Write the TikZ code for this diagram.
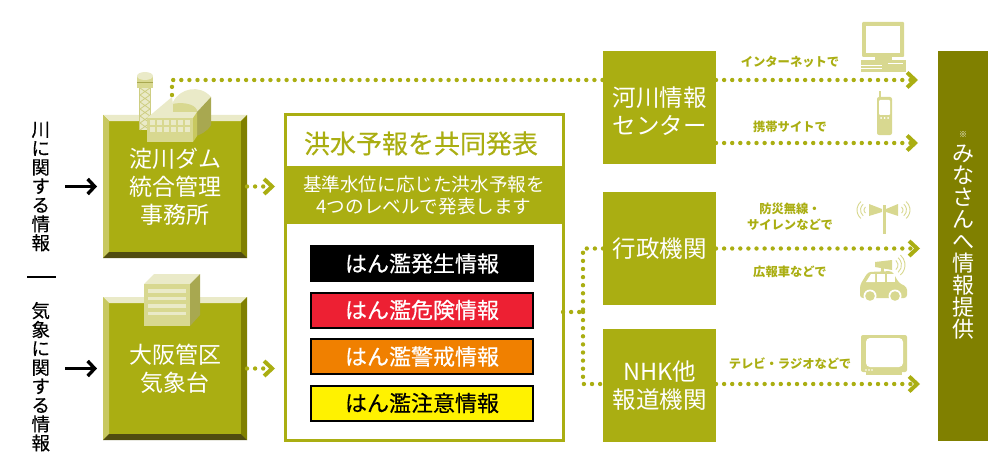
\documentclass[tikz,border=0pt]{standalone}
\usepackage{fontspec}
\setmainfont{Noto Sans CJK JP}
\newfontfamily\heavyfont[FakeBold=0.35]{Noto Sans CJK JP}
\usetikzlibrary{positioning,calc,arrows.meta}
\definecolor{olive1}{HTML}{AAAE12}
\definecolor{olive2}{HTML}{808000}
\definecolor{olive3}{HTML}{D8D890}
\definecolor{olive4}{HTML}{EAEAC8}
\definecolor{olive5}{HTML}{C8C860}
\definecolor{olive6}{HTML}{504C10}
\definecolor{olive7}{HTML}{A8A850}
\definecolor{flood}{HTML}{ED2033}
\definecolor{warn}{HTML}{F08000}
\definecolor{note}{HTML}{FFF200}
\tikzset{
  sender/.style={fill=olive1,text=white,minimum width=144pt,minimum height=143pt,inner sep=0pt,outer sep=0pt,align=center,font=\fontsize{23}{28}\selectfont},
  relay/.style={fill=olive1,text=white,minimum width=113pt,minimum height=113pt,inner sep=0pt,outer sep=0pt,align=center,font=\fontsize{23.5}{28}\selectfont},
  level/.style={draw=black,line width=2pt,minimum width=222pt,minimum height=35pt,inner sep=0pt,outer sep=1pt,font=\fontsize{22}{25}\heavyfont},
  tate/.style={align=center,inner sep=0pt,outer sep=0pt,font=\fontsize{18.5}{18.9}\heavyfont},
  medium/.style={text=olive1,align=center,inner sep=0pt,font=\fontsize{12.3}{16}\selectfont\bfseries},
  dots/.style={olive1,line width=4.4pt,line cap=round,dash pattern=on 0pt off 8.1pt,-{Straight Barb[length=8pt,width=15pt,line width=4pt,line cap=butt]}},
  plaindots/.style={olive1,line width=4.4pt,line cap=round,dash pattern=on 0pt off 8.1pt},
  inflow/.style={line width=3.4pt,-{Straight Barb[length=7pt,width=15pt,line width=3.4pt,line cap=butt]}},
}
\newcommand{\bevel}[1]{
  \fill[olive4] (#1.north west) -- (#1.north east) -- ($(#1.north east)+(-6,6)$) -- ($(#1.north west)+(6,6)$) -- cycle;
  \fill[olive5] (#1.north west) -- (#1.south west) -- ($(#1.south west)+(6,-6)$) -- ($(#1.north west)+(6,6)$) -- cycle;
  \fill[olive2] (#1.north east) -- (#1.south east) -- ($(#1.south east)+(-6,-6)$) -- ($(#1.north east)+(-6,6)$) -- cycle;
  \fill[olive6] (#1.south west) -- (#1.south east) -- ($(#1.south east)+(-6,-6)$) -- ($(#1.south west)+(6,-6)$) -- cycle;
}
\begin{document}
\begin{tikzpicture}[x=1pt,y=-1pt]
  \useasboundingbox (0,0) rectangle (1000,468);
  \node [sender,anchor=north west] (dam) at (103,115) {淀川ダム\\統合管理\\事務所};
  \node [sender,below=39pt of dam] (jma) {大阪管区\\気象台};
  \bevel{dam}
  \bevel{jma}
  \node [tate,left=53pt of dam] (kawa) {川\\に\\関\\す\\る\\情\\報};
  \node [tate,anchor=north] (kisho) at (kawa.center |- 0,302) {気\\象\\に\\関\\す\\る\\情\\報};
  \coordinate (rule1) at (27,277);
  \coordinate (rule2) at (56,277);
  \draw [line width=1.2pt] (rule1) -- (rule2);
  \node [draw=olive1,line width=3pt,minimum width=278pt,minimum height=326pt,inner sep=0pt,outer sep=0pt,anchor=north west] (joint) at (285,114.5) {};
  \node [fill=olive1,minimum width=278pt,minimum height=58pt,inner sep=0pt,outer sep=0pt,anchor=north,text=white,align=center,font=\fontsize{18.6}{22}\selectfont] (outline) at ($(joint.north)+(0,51.5)$) {基準水位に応じた洪水予報を\\4つのレベルで発表します};
  \node [text=olive1,inner sep=0pt,font=\fontsize{26}{30}\heavyfont] (title) at ($(joint.north)+(-3,29)$) {洪水予報を共同発表};
  \node [level,fill=black,text=white,anchor=north] (lev1) at ($(outline.south)+(-2,21)$) {はん濫発生情報};
  \node [level,fill=flood,text=white,below=9.5pt of lev1] (lev2) {はん濫危険情報};
  \node [level,fill=warn,text=white,below=9.5pt of lev2] (lev3) {はん濫警戒情報};
  \node [level,fill=note,text=black,below=9.5pt of lev3] (lev4) {はん濫注意情報};
  \node [relay,anchor=north west] (kasen) at (603,51) {};
  \node [relay,fill=none] (kasentext) at ($(kasen.center)+(0,4)$) {河川情報\\センター};
  \node [relay,below=28pt of kasen] (gyosei) {行政機関};
  \node [relay,below=24pt of gyosei] (nhk) {NHK他\\報道機関};
  \node [fill=olive2,text=white,minimum width=50pt,minimum height=390pt,inner sep=0pt,outer sep=0pt,anchor=north west] (minasan) at (938,51) {};
  \node [text=white,inner sep=0pt,font=\fontsize{8}{8}\selectfont] (kome) at (963,135) {※};
  \node [text=white,align=center,inner sep=0pt,anchor=north,font=\fontsize{22}{22}\selectfont] (teikyo) at (963,145) {み\\な\\さ\\ん\\へ\\情\\報\\提\\供};
  \draw [inflow,shorten <=15pt,shorten >=6pt] (kawa.east) -- (dam.west);
  \draw [inflow,shorten <=15pt,shorten >=6pt] (kisho.east |- jma.west) -- (jma.west);
  \draw [dots,shorten >=10pt] (dam.east) -- (dam.east -| joint.west);
  \draw [dots,shorten >=10pt] (jma.east) -- (jma.east -| joint.west);
  \coordinate (stack) at (172,95);
  \coordinate (inet) at (603,80);
  \coordinate (inet2) at (716,80);
  \coordinate (mobile) at (716,143);
  \coordinate (nhkline) at (603,384);
  \coordinate (nhkline2) at (716,384);
  \coordinate (branch) at (583,312);
  \draw [plaindots] (stack) |- (inet);
  \draw [dots,shorten >=20pt] (inet2) -- (inet2 -| minasan.west);
  \draw [dots,shorten >=20pt] (mobile) -- (mobile -| minasan.west);
  \draw [dots,shorten >=18pt] (gyosei.east) -- (gyosei.east -| minasan.west);
  \draw [dots,shorten >=18pt] (nhkline2) -- (nhkline2 -| minasan.west);
  \draw [plaindots] (joint.east |- branch) -- (branch);
  \draw [plaindots] (gyosei.west) -| (branch);
  \draw [plaindots] (branch) |- (nhkline);
  \node [medium] (l1) at (790,62) {インターネットで};
  \node [medium] (l2) at (790,127) {携帯サイトで};
  \node [medium] (l3) at (790,217) {防災無線・\\サイレンなどで};
  \node [medium] (l4) at (790,272) {広報車などで};
  \node [medium] (l5) at (790,364) {テレビ・ラジオなどで};
  % factory
  \fill [olive4] (139,88) rectangle (151,130);
  \foreach \y in {88,95,102,109,116,123} {
    \draw [olive3!80!olive7,line width=.8pt] (140,\y) -- (150,\y+7) (150,\y) -- (140,\y+7);
  }
  \draw [olive3!80!olive7,line width=.8pt] (139.5,88) -- (139.5,130) (150.5,88) -- (150.5,130);
  \fill [olive3] (137,76) rectangle (153,88);
  \fill [olive4] (145,76) ellipse (8 and 4);
  \fill [olive7] (137,82) rectangle (153,83);
  \fill [olive4] (147,118) -- (172,97) -- (174,112) -- (197,112) -- (193,118) -- cycle;
  \fill [olive4] (173,112) -- (173,102) .. controls (180,88) and (200,84) .. (211,97) -- (197,112) -- cycle;
  \fill [olive3] (173,104) -- (173,112) -- (197,112) -- (197,110) .. controls (194,103) and (180,102) .. (173,104) -- cycle;
  \fill [olive7] (197,112) -- (211,97) -- (211,125) .. controls (207,132) and (200,135) .. (193,137) -- cycle;
  \fill [olive5] (193,118) -- (197,112) -- (197,136) -- (193,142) -- cycle;
  \fill [olive3] (147,118) rectangle (193,142);
  \foreach \x in {150,157,164,171,178,185} {
    \fill [olive4] (\x,120) rectangle +(5,5);
    \fill [olive4] (\x,127) rectangle +(5,5);
  }
  % office
  \fill [olive4] (144,284) -- (154,274) -- (200,274) -- (190,284) -- cycle;
  \fill [olive7] (190,284) -- (200,274) -- (200,315) -- (190,326) -- cycle;
  \fill [olive3] (144,284) rectangle (190,326);
  \foreach \y in {289,296.5,304,311.5} {
    \fill [olive4] (148,\y) rectangle (186,\y+3.5);
  }
  % pc
  \fill [olive3,rounded corners=1pt] (862,22) rectangle (904,57);
  \fill [white] (866,26) rectangle (900,53);
  \fill [olive3] (875,57) rectangle (892,60);
  \fill [olive3] (861,60) rectangle (906,72);
  \fill [white] (861,65.5) rectangle (882,66.5);
  \fill [white] (861,68.5) rectangle (882,69.5);
  \fill [white] (888,63) rectangle (903,64);
  % phone
  \fill [olive3] (878.5,91) rectangle (880.5,98);
  \fill [olive3,rounded corners=2pt] (877,97) rectangle (892,135);
  \fill [white,rounded corners=1pt] (879,100) rectangle (890,115);
  \foreach \x in {881,884.5,888} {
    \fill [white] (\x,118) circle (1);
  }
  % siren
  \fill [olive3] (882.5,205) rectangle (885.5,234);
  \fill [olive3] (869,204) -- (882,209) -- (882,212) -- (869,216) -- cycle;
  \fill [olive3] (898,204) -- (886,209) -- (886,212) -- (898,216) -- cycle;
  \foreach \r in {4,7.5,11} {
    \draw [olive3,line width=.9pt] (868,210)+(130:\r) arc (130:230:\r);
    \draw [olive3,line width=.9pt] (899,210)+(50:\r) arc (50:-50:\r);
  }
  % car
  \fill [olive3] (875,262) -- (892,260) -- (892,270) -- (875,267) -- cycle;
  \fill [olive3] (881,267) rectangle (884,272);
  \fill [olive3,rounded corners=3pt] (860,298) -- (860,285) -- (868,272) -- (892,271) -- (899,283) -- (907,287) -- (907,298) -- cycle;
  \fill [white] (877,274) rectangle (885,282);
  \fill [white] (887,274) rectangle (895,282);
  \fill [white] (866,282) -- (871,274) -- (875,274) -- (875,282) -- cycle;
  \fill [white] (870,296) circle (6.5);
  \fill [white] (895,296) circle (6.5);
  \fill [olive3] (870,296) circle (4.8);
  \fill [olive3] (895,296) circle (4.8);
  \foreach \r in {6,9.5,13} {
    \draw [olive3,line width=.9pt] (892,265)+(50:\r) arc (50:-50:\r);
  }
  % tv
  \fill [olive3,rounded corners=2pt] (861,335) rectangle (907,372);
  \fill [olive3] (866,372) rectangle (902,375);
  \fill [white,rounded corners=4pt] (866,338) rectangle (903,367);
  \foreach \x in {866,869,872} {
    \fill [white] (\x,370) circle (.9);
  }
\end{tikzpicture}
\end{document}
